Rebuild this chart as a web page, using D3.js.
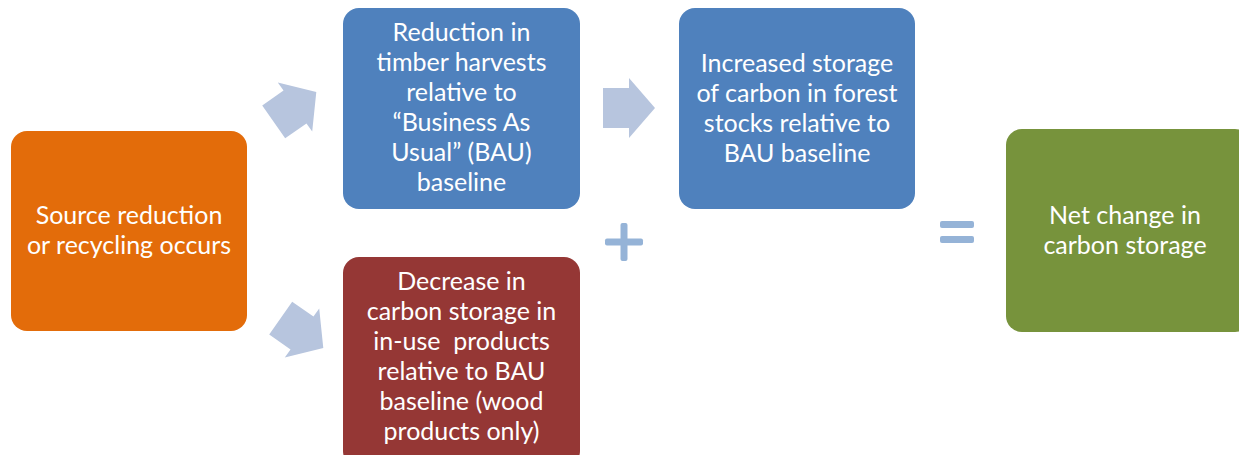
<!DOCTYPE html>
<meta charset="utf-8">
<style>
  body { margin: 0; background: #fff; }
  text { font-family: Lato, "Open Sans", sans-serif; font-size: 25px; fill: #fff; }
</style>
<svg width="1239" height="455"></svg>
<script src="https://d3js.org/d3.v7.min.js"></script>
<script>

var boxIds = ["source", "harvest", "forest", "products", "net"];
var boxLabels = [
  ["Source reduction", "or recycling occurs"],
  ["Reduction in", "timber harvests", "relative to", "\u201cBusiness As", "Usual\u201d (BAU)", "baseline"],
  ["Increased storage", "of carbon in forest", "stocks relative to", "BAU baseline"],
  ["Decrease in", "carbon storage in", "in-use  products", "relative to BAU", "baseline (wood", "products only)"],
  ["Net change in", "carbon storage"]
];
var boxColors = ["#e36c0a", "#4f81bd", "#4f81bd", "#953735", "#77933c"];
var boxRects = [
  [11, 131, 236, 200],
  [343, 8, 237, 201],
  [679, 8, 236, 201],
  [343, 257, 237, 210],
  [1006, 129, 245, 203]
];
var textTops = [215, 32, 63, 281, 215];

// arrows: center x, center y, rotation
var arrows = [
  [295, 107, -35],
  [302, 333, 35],
  [629, 108, 0]
];

var svg = d3.select("svg");

var box = svg.selectAll("g.box")
  .data(boxIds)
  .enter().append("g")
    .attr("class", "box");

box.append("rect")
    .attr("x", function(d, i) { return boxRects[i][0]; })
    .attr("y", function(d, i) { return boxRects[i][1]; })
    .attr("width", function(d, i) { return boxRects[i][2]; })
    .attr("height", function(d, i) { return boxRects[i][3]; })
    .attr("rx", 16)
    .attr("fill", function(d, i) { return boxColors[i]; });

box.each(function(d, i) {
  var cx = boxRects[i][0] + boxRects[i][2] / 2;
  if (i === 4) cx = 1125;
  d3.select(this).selectAll("text")
    .data(boxLabels[i])
    .enter().append("text")
      .attr("x", cx)
      .attr("y", function(t, j) { return textTops[i] + j * 30; })
      .attr("dy", "0.35em")
      .attr("text-anchor", "middle")
      .style("white-space", "pre")
      .text(function(t) { return t; });
});

// block arrow shape, pointing right, centered on origin
var arrowPath = "M-26,-20 L0,-20 L0,-30 L26,0 L0,30 L0,20 L-26,20 Z";

svg.selectAll("path.arrow")
  .data(arrows)
  .enter().append("path")
    .attr("class", "arrow")
    .attr("d", arrowPath)
    .attr("transform", function(d) { return "translate(" + d[0] + "," + d[1] + ") rotate(" + d[2] + ")"; })
    .attr("fill", "#b7c5de");

// plus sign
var plus = svg.append("g").attr("transform", "translate(624,242)");
plus.append("rect").attr("x", -19).attr("y", -3.5).attr("width", 38).attr("height", 7).attr("rx", 2).attr("fill", "#95b3d7");
plus.append("rect").attr("x", -3.5).attr("y", -19).attr("width", 7).attr("height", 38).attr("rx", 2).attr("fill", "#95b3d7");

// equals sign
var eq = svg.append("g").attr("transform", "translate(957,232)");
eq.append("rect").attr("x", -17).attr("y", -11).attr("width", 34).attr("height", 7).attr("rx", 2).attr("fill", "#95b3d7");
eq.append("rect").attr("x", -17).attr("y", 4).attr("width", 34).attr("height", 7).attr("rx", 2).attr("fill", "#95b3d7");

</script>
